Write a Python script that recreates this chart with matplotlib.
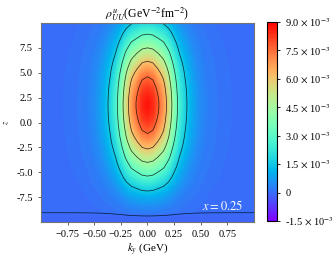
import numpy as np
import matplotlib
matplotlib.use('Agg')
import matplotlib.pyplot as plt

plt.rcParams['font.family'] = ['Liberation Serif', 'DejaVu Serif']
plt.rcParams['mathtext.fontset'] = 'stix'

# grid (GeV, fm)
ky = np.linspace(-1, 1, 41)
z = np.linspace(-10, 10, 41)

# ky profile, ky = 0.00 ... 1.00 step 0.05 (mirrored)
g_half = [1.0, 0.97, 0.875, 0.78, 0.62, 0.44, 0.29, 0.20, 0.13, 0.08, 0.05,
          0.03, 0.02, 0.012, 0.008, 0.005, 0.003, 0.002, 0.001, 0.0, 0.0]
g_ky = np.array(g_half[::-1][:-1] + g_half)

# z profile, z = -10 ... 10 step 0.5
h_z = np.array([0.002, 0.008, 0.02, 0.05, 0.08, 0.115, 0.16, 0.21, 0.27, 0.33,
                0.39, 0.455, 0.517, 0.585, 0.645, 0.71, 0.77, 0.825, 0.87, 0.91,
                0.945, 0.97, 0.99, 1.0, 1.0, 0.99, 0.97, 0.945, 0.91, 0.87,
                0.825, 0.77, 0.71, 0.645, 0.585, 0.517, 0.455, 0.39, 0.33, 0.27,
                0.21])

# small baseline along z (negative strip at the bottom)
base_z = np.array([-1.5e-4, -1.2e-4, 2e-5] + [1e-5] * 38)

peak = 8.7e-3
rho = peak * np.outer(h_z, g_ky) + base_z[:, None]

line_levels = [0, 1.5e-3, 3e-3, 4.5e-3, 6e-3, 7.5e-3]
cb_ticks = [-1.5e-3, 0, 1.5e-3, 3e-3, 4.5e-3, 6e-3, 7.5e-3, 9e-3]
cb_labels = ['-1.5 $\\times$ 10$^{-3}$', '0', '1.5 $\\times$ 10$^{-3}$',
             '3.0 $\\times$ 10$^{-3}$', '4.5 $\\times$ 10$^{-3}$',
             '6.0 $\\times$ 10$^{-3}$', '7.5 $\\times$ 10$^{-3}$',
             '9.0 $\\times$ 10$^{-3}$']
y_ticks = [-7.5, -5.0, -2.5, 0.0, 2.5, 5.0, 7.5]
y_labels = ['-7.5', '-5.0', '-2.5', '0.0', '2.5', '5.0', '7.5']

fig = plt.figure(figsize=(3.35, 2.59), dpi=100)
ax = fig.add_axes([0.1224, 0.143, 0.6356, 0.768])
cax = fig.add_axes([0.797, 0.147, 0.03, 0.768])

cf = ax.contourf(ky, z, rho, levels=np.linspace(-1.5e-3, 9e-3, 151),
                 cmap='rainbow', vmin=-1.5e-3, vmax=9e-3)
ax.contour(ky, z, rho, levels=line_levels, colors='k', linewidths=0.55, alpha=0.75)

ax.set_xlim(-1, 1)
ax.set_ylim(-10, 10)
ax.set_xticks([-0.75, -0.5, -0.25, 0, 0.25, 0.5, 0.75])
ax.set_yticks(y_ticks)
ax.set_yticklabels(y_labels)
ax.tick_params(labelsize=7.5, length=2.5, width=0.6, color='0.3')
for s in ax.spines.values():
    s.set_color('0.45')
    s.set_linewidth(0.8)

ax.set_title('$\\rho^{u}_{UU}$(GeV$^{-2}$fm$^{-2}$)', fontsize=8.5, pad=3)
ax.set_xlabel('$k_y$ (GeV)', fontsize=8, labelpad=1)
ax.set_ylabel('$z$', fontsize=6, labelpad=4)
ax.text(0.95, 0.08, '$x=0.25$', color='white', fontsize=9,
        ha='right', va='center', transform=ax.transAxes)

cb = fig.colorbar(cf, cax=cax, ticks=cb_ticks)
cb.ax.set_yticklabels(cb_labels)
cb.ax.tick_params(labelsize=7.5, length=2.5, width=0.6)
cb.outline.set_linewidth(0.8)

fig.savefig('out.png', dpi=100)
